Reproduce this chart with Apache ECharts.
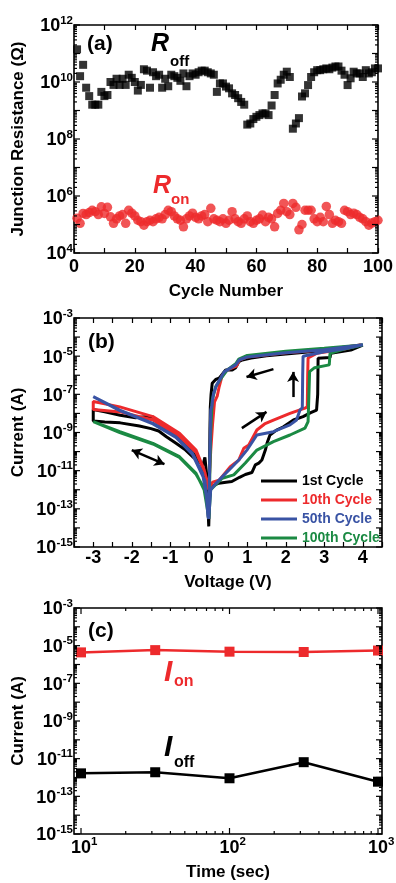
<!DOCTYPE html>
<html><head><meta charset="utf-8">
<script src="https://cdn.jsdelivr.net/npm/echarts@6/dist/echarts.min.js"></script>
<style>html,body{margin:0;padding:0;background:#fff}#c{width:396px;height:883px}</style>
</head><body><div id="c"></div>
<script>
const FONT = '"Liberation Sans", Arial, Helvetica, sans-serif';
const RED = '#ed2a2c', BLUE = '#3953a4', GREEN = '#1b8a43', BLACK = '#000';

// ---------- Panel (a): resistance vs cycle ----------
const cycles = [1,2,3,4,5,6,7,8,9,10,11,12,13,14,15,16,17,18,19,20,21,22,23,24,25,26,27,28,29,30,31,32,33,34,35,36,37,38,39,40,41,42,43,44,45,46,47,48,49,50,51,52,53,54,55,56,57,58,59,60,61,62,63,64,65,66,67,68,69,70,71,72,73,74,75,76,77,78,79,80,81,82,83,84,85,86,87,88,89,90,91,92,93,94,95,96,97,98,99,100];
const rOff = [1.4e11,1.6e10,4.0e10,6.3e9,3.2e9,1.6e9,1.6e9,1.6e9,4.5e9,3.2e9,
  3.5e9,1.0e10,7.9e9,1.3e10,7.9e9,1.3e10,7.9e9,1.8e10,1.4e10,1.0e10,
  5.0e9,7.9e9,2.8e10,2.5e10,6.3e9,2.2e10,1.6e10,1.8e10,6.3e9,1.3e10,
  7.1e9,1.8e10,1.6e10,1.4e10,1.1e10,2.0e10,7.1e9,1.6e10,2.0e10,1.8e10,
  2.2e10,2.5e10,2.5e10,2.2e10,2.0e10,1.8e10,4.5e9,8.9e9,8.9e9,6.9e9,
  6.0e9,4.0e9,3.5e9,2.7e9,2.0e9,1.6e9,3.2e8,3.5e8,5.0e8,6.0e8,
  6.9e8,7.9e8,7.9e8,6.9e8,1.5e9,3.5e9,8.9e9,1.2e10,1.8e10,2.3e10,
  1.5e10,2.3e8,3.5e8,5.4e8,3.1e9,4.0e9,7.8e9,1.5e10,2.2e10,2.6e10,
  2.6e10,2.8e10,3.0e10,2.8e10,3.2e10,3.5e10,3.5e10,2.5e10,1.8e10,7.8e9,
  1.35e10,2.3e10,2.0e10,2.0e10,1.5e10,2.6e10,2.0e10,2.2e10,3.0e10,3.0e10];
const rOn = [1.66e5,1.1e5,2.45e5,2.24e5,2.63e5,3.16e5,2.82e5,2.24e5,4.17e5,2.45e5,
  4.0e5,1.86e5,1.1e5,1.58e5,2.0e5,2.24e5,1.1e5,3.16e5,2.5e5,2.0e5,
  1.41e5,1.26e5,9.5e4,1.26e5,1.41e5,1.26e5,1.58e5,1.78e5,1.58e5,2.24e5,
  3.16e5,2.82e5,2.0e5,1.58e5,1.41e5,8.3e4,1.58e5,2.0e5,2.5e5,1.78e5,
  1.58e5,2.0e5,2.24e5,1.26e5,3.7e5,1.58e5,1.41e5,1.26e5,1.58e5,1.1e5,
  1.41e5,2.82e5,1.58e5,1.26e5,1.1e5,1.58e5,2.0e5,1.26e5,1.1e5,1.41e5,
  1.58e5,2.14e5,1.26e5,1.78e5,1.58e5,8.3e4,2.45e5,3.16e5,5.5e5,2.82e5,
  2.24e5,5.5e5,4.0e5,6.5e4,1.0e5,3.16e5,3.16e5,3.16e5,1.58e5,1.26e5,
  1.78e5,1.26e5,4.3e5,2.24e5,1.1e5,1.41e5,1.26e5,1.1e5,3.16e5,2.82e5,
  2.24e5,2.5e5,2.24e5,1.78e5,1.58e5,1.26e5,9.5e4,1.12e5,1.26e5,1.41e5];
const aXTickLabels = ['0','20','40','60','80','100'];
const aYLabelExps = [4,6,8,10,12];

// ---------- Panel (b): I-V curves [V, |I|] ----------
const ivNames = ['1st Cycle','10th Cycle','50th Cycle','100th Cycle'];
const iv1st = [[0.00,1.2e-14],[0.02,4e-13],[0.05,1.2e-12],[0.10,1.6e-12],[0.26,2.2e-12],[0.45,2.5e-12],[0.60,2.7e-12],[0.80,4.5e-12],[0.95,6.3e-12],[1.12,8e-12],[1.21,2e-11],[1.30,2.5e-11],[1.38,3.6e-11],[1.47,1.2e-10],[1.52,3e-10],[1.59,7.4e-10],[1.75,1.3e-9],[1.94,2e-9],[2.20,4.5e-9],[2.45,6.8e-9],[2.65,1.1e-8],[2.80,1.5e-8],[2.83,1e-7],[2.84,7.8e-6],[3.15,8.5e-6],[3.17,1.4e-5],[3.69,2.1e-5],[4.00,3.8e-5],
  [3.50,2.6e-5],[3.00,2.0e-5],[2.50,1.6e-5],[2.00,1.3e-5],[1.50,1.05e-5],[1.10,8e-6],[0.87,6.3e-6],[0.78,5.1e-6],[0.70,2.5e-6],[0.61,1.9e-6],[0.44,1.9e-6],[0.27,7e-7],[0.18,6e-7],[0.09,3.8e-7],[0.06,1e-7],[0.04,2e-8],[0.03,1e-9],[0.02,1e-11],[0.00,1.2e-14],
  [-0.02,3e-13],[-0.05,5e-12],[-0.10,5e-11],[-0.15,2e-11],[-0.25,3e-11],[-0.42,5.4e-11],[-0.60,1.2e-10],[-0.85,2.7e-10],[-1.10,6e-10],[-1.30,1.2e-9],[-1.50,1.6e-9],[-1.80,2.2e-9],[-2.30,3.2e-9],[-2.70,3.6e-9],[-3.00,4e-9],
  [-3.00,1.6e-8],[-2.70,1.2e-8],[-2.30,8e-9],[-1.90,6e-9],[-1.60,7e-9],[-1.45,6.5e-9],[-1.30,3e-9],[-0.85,6e-10],[-0.50,1.5e-10],[-0.20,2.5e-11],[-0.05,3e-12],[0.00,1.2e-14]];
const iv10th = [[0.00,1e-12],[0.10,2.5e-12],[0.27,3.2e-12],[0.56,1.6e-11],[0.78,3.6e-11],[0.91,1.5e-10],[1.04,2.2e-10],[1.25,1.35e-9],[1.45,2.8e-9],[1.68,4.5e-9],[2.11,1e-8],[2.50,1.9e-8],[2.56,2.2e-8],[2.57,1e-6],[2.58,8e-6],[2.80,1.4e-5],[3.50,2.3e-5],[3.95,3.9e-5],
  [3.00,2.2e-5],[2.00,1.5e-5],[1.00,9e-6],[0.80,6.5e-6],[0.72,3e-6],[0.50,2e-6],[0.35,1e-6],[0.27,2.5e-7],[0.22,8e-8],[0.15,4e-8],[0.10,3e-9],[0.05,1e-10],[0.00,1e-12],
  [-0.05,3e-12],[-0.12,1.1e-11],[-0.33,1.2e-10],[-0.76,9.1e-10],[-1.45,6.8e-9],[-2.31,2.2e-8],[-3.00,4.2e-8],
  [-3.00,1.6e-8],[-2.30,1.2e-8],[-1.45,4.5e-9],[-0.76,6e-10],[-0.33,9e-11],[-0.10,8e-12],[0.00,1e-12]];
const iv50th = [[0.00,3e-14],[0.05,1e-12],[0.18,2.1e-12],[0.40,6e-12],[0.61,1.6e-11],[0.80,4e-11],[0.99,1.2e-10],[1.25,7.4e-10],[1.68,1.1e-9],[2.11,2.5e-9],[2.28,4.5e-9],[2.37,1.5e-8],[2.43,2e-8],[2.44,1e-6],[2.45,1e-5],[3.00,1.7e-5],[3.50,2.4e-5],[4.00,4e-5],
  [3.00,2.2e-5],[2.00,1.5e-5],[1.00,9e-6],[0.80,6.5e-6],[0.70,3.5e-6],[0.40,1.5e-6],[0.20,3e-7],[0.12,1e-7],[0.08,2.5e-8],[0.05,1.5e-8],[0.03,1e-10],[0.00,3e-14],
  [-0.02,3.9e-14],[-0.06,4.3e-13],[-0.16,7.2e-12],[-0.42,8.1e-11],[-0.85,6e-10],[-1.45,3e-9],[-2.31,1.5e-8],[-3.00,7.6e-8],
  [-3.00,7e-8],[-2.31,1.4e-8],[-1.45,2.8e-9],[-0.85,5.5e-10],[-0.42,7e-11],[-0.10,3e-12],[0.00,3e-14]];
const iv100th = [[0.00,3e-14],[0.05,1e-12],[0.35,4e-12],[0.65,6e-12],[0.95,2.5e-11],[1.25,1.2e-10],[1.68,3.3e-10],[2.11,7.4e-10],[2.50,1.7e-9],[2.58,3.7e-9],[2.61,3.7e-9],[2.62,1.55e-6],[2.75,2.5e-6],[3.13,3.5e-6],[3.15,1.4e-5],[3.50,2.3e-5],[4.00,3.8e-5],
  [3.00,2.6e-5],[2.00,1.8e-5],[1.00,1.1e-5],[0.78,7e-6],[0.70,4e-6],[0.48,1.9e-6],[0.35,8.3e-7],[0.18,2.5e-7],[0.09,5e-8],[0.05,1e-9],[0.02,1e-12],[0.00,3e-14],
  [-0.02,6e-14],[-0.12,1e-12],[-0.33,7.2e-12],[-0.76,5.4e-11],[-1.45,2.7e-10],[-2.31,1.1e-9],[-3.00,3.7e-9],
  [-3.00,3.3e-9],[-2.31,1e-9],[-1.45,2.5e-10],[-0.76,5e-11],[-0.33,6.5e-12],[-0.10,1e-12],[0.00,3e-14]];
const bXTickLabels = ['-3','-2','-1','0','1','2','3','4'];
const bYLabelExps = [-15,-13,-11,-9,-7,-5,-3];
// sweep-direction arrows [from, to] in data coordinates
const bArrows = [
  {from:[-2.0,1.2e-10], to:[-1.15,2.2e-11], both:true},
  {from:[0.86,1.7e-9], to:[1.5,1.2e-8], both:false},
  {from:[2.19,7.2e-8], to:[2.19,1.5e-6], both:false},
  {from:[1.68,2.1e-6], to:[0.98,8.1e-7], both:false}
];

// ---------- Panel (c): retention ----------
const times = [10, 31.6, 100, 316, 1000];
const iOn = [4.4e-6, 5.8e-6, 4.8e-6, 4.6e-6, 5.5e-6];
const iOff = [1.66e-12, 1.9e-12, 9.1e-13, 6.5e-12, 6e-13];
const cXLabelExps = [1,2,3];
const cYLabelExps = [-15,-13,-11,-9,-7,-5,-3];

// ---------- helpers for log-axis ticks ----------
function richStyle() {
  return {
    b: {fontFamily: FONT, fontSize: 18, fontWeight: 'bold', fill: '#000', lineHeight: 21, verticalAlign: 'bottom'},
    s: {fontFamily: FONT, fontSize: 11.5, fontWeight: 'bold', fill: '#000', lineHeight: 12, verticalAlign: 'top'}
  };
}
function logTicks(minExp, maxExp) {
  const out = [];
  for (let e = minExp; e <= maxExp; e++) {
    out.push([Math.pow(10, e), 1, e]);
    if (e < maxExp) for (let k = 2; k <= 9; k++) out.push([k * Math.pow(10, e), 0, e]);
  }
  return out;
}
function yTickSeries(idx, xRef, minExp, maxExp, labelExps) {
  return {
    type: 'custom', xAxisIndex: idx, yAxisIndex: idx, silent: true, animation: false, z: 5,
    encode: {x: 0, y: 1},
    data: logTicks(minExp, maxExp).map(t => [xRef, t[0], t[1], (t[1] && labelExps.indexOf(t[2]) >= 0) ? 1 : 0, t[2]]),
    renderItem: function (params, api) {
      const cs = params.coordSys;
      const y = api.coord([api.value(0), api.value(1)])[1];
      const len = api.value(2) ? 6 : 3;
      const ch = [
        {type: 'line', shape: {x1: cs.x, y1: y, x2: cs.x + len, y2: y}, style: {stroke: '#000', lineWidth: 1.2}},
        {type: 'line', shape: {x1: cs.x + cs.width, y1: y, x2: cs.x + cs.width - len, y2: y}, style: {stroke: '#000', lineWidth: 1.2}}
      ];
      if (api.value(3)) {
        ch.push({type: 'text', x: cs.x - 1, y: y,
          style: {text: '{b|10}{s|' + api.value(4) + '}', rich: richStyle(), align: 'right', verticalAlign: 'middle'}});
      }
      return {type: 'group', children: ch};
    }
  };
}
function xTickSeries(idx, yRef, minExp, maxExp, labelExps) {
  return {
    type: 'custom', xAxisIndex: idx, yAxisIndex: idx, silent: true, animation: false, z: 5,
    encode: {x: 0, y: 1},
    data: logTicks(minExp, maxExp).map(t => [t[0], yRef, t[1], (t[1] && labelExps.indexOf(t[2]) >= 0) ? 1 : 0, t[2]]),
    renderItem: function (params, api) {
      const cs = params.coordSys;
      const x = api.coord([api.value(0), api.value(1)])[0];
      const len = api.value(2) ? 6 : 3;
      const b = cs.y + cs.height;
      const ch = [
        {type: 'line', shape: {x1: x, y1: b, x2: x, y2: b - len}, style: {stroke: '#000', lineWidth: 1.2}},
        {type: 'line', shape: {x1: x, y1: cs.y, x2: x, y2: cs.y + len}, style: {stroke: '#000', lineWidth: 1.2}}
      ];
      if (api.value(3)) {
        ch.push({type: 'text', x: x - 10, y: b + 2,
          style: {text: '{b|10}{s|' + api.value(4) + '}', rich: richStyle(), align: 'left', verticalAlign: 'top'}});
      }
      return {type: 'group', children: ch};
    }
  };
}

const nameStyle = {fontFamily: FONT, fontSize: 17, fontWeight: 'bold', color: '#000'};
const labStyle = {fontFamily: FONT, fontSize: 18, fontWeight: 'bold', color: '#000'};
const tickStyle = {show: true, inside: true, length: 5, lineStyle: {color: '#000', width: 1.2}};
const gridBase = {show: true, borderColor: '#000', borderWidth: 1.6, backgroundColor: 'transparent', containLabel: false};
function hiddenLogY(grid, min, max, name) {
  return {type: 'log', logBase: 10, gridIndex: grid, min: min, max: max,
    axisLine: {show: false}, axisTick: {show: false}, axisLabel: {show: false}, splitLine: {show: false},
    name: name, nameLocation: 'middle', nameGap: 47, nameTextStyle: nameStyle};
}

const chart = echarts.init(document.getElementById('c'), null, {renderer: 'canvas'});
const txt = (x, y, text, size, color, italic) => ({
  type: 'text', x: x, y: y, silent: true,
  style: {text: text, fill: color, font: (italic ? 'italic ' : '') + 'bold ' + size + 'px ' + FONT,
    align: 'left', verticalAlign: 'middle', textAlign: 'left', textVerticalAlign: 'middle'}
});

chart.setOption({
  animation: false,
  backgroundColor: '#fff',
  grid: [
    Object.assign({left: 74, top: 25, width: 308, height: 228}, gridBase),
    Object.assign({left: 74, top: 318, width: 308, height: 229}, gridBase),
    Object.assign({left: 74, top: 608, width: 308, height: 226}, gridBase)
  ],
  xAxis: [
    {type: 'value', gridIndex: 0, min: 0, max: 100, interval: 10, axisLine: {show: false}, splitLine: {show: false},
      axisTick: tickStyle, axisLabel: Object.assign({margin: 5, formatter: v => aXTickLabels.indexOf(String(v)) >= 0 ? String(v) : ''}, labStyle),
      name: 'Cycle Number', nameLocation: 'middle', nameGap: 30, nameTextStyle: nameStyle},
    {type: 'value', gridIndex: 1, min: -3.5, max: 4.5, interval: 0.5, axisLine: {show: false}, splitLine: {show: false},
      axisTick: tickStyle, axisLabel: Object.assign({margin: 2, formatter: v => bXTickLabels.indexOf(String(v)) >= 0 ? String(v) : ''}, labStyle),
      name: 'Voltage (V)', nameLocation: 'middle', nameGap: 27, nameTextStyle: nameStyle},
    {type: 'log', logBase: 10, gridIndex: 2, min: 8.97, max: 1064, axisLine: {show: false}, splitLine: {show: false},
      axisTick: {show: false}, axisLabel: {show: false},
      name: 'Time (sec)', nameLocation: 'middle', nameGap: 30, nameTextStyle: nameStyle},
    {type: 'value', gridIndex: 0, position: 'top', min: 0, max: 100, interval: 10, axisLine: {show: false}, splitLine: {show: false},
      axisTick: tickStyle, axisLabel: {show: false}},
    {type: 'value', gridIndex: 1, position: 'top', min: -3.5, max: 4.5, interval: 0.5, axisLine: {show: false}, splitLine: {show: false},
      axisTick: tickStyle, axisLabel: {show: false}}
  ],
  yAxis: [
    hiddenLogY(0, 1e4, 1e12, 'Junction Resistance (Ω)'),
    hiddenLogY(1, 1e-15, 1e-3, 'Current (A)'),
    hiddenLogY(2, 1e-15, 1e-3, 'Current (A)')
  ],
  legend: {
    left: 256, top: 469, orient: 'vertical', itemWidth: 36, itemHeight: 3, itemGap: 5, icon: 'rect',
    selectedMode: false,
    textStyle: {fontFamily: FONT, fontSize: 14, fontWeight: 'bold'},
    data: [
      {name: ivNames[0], textStyle: {color: BLACK}},
      {name: ivNames[1], textStyle: {color: RED}},
      {name: ivNames[2], textStyle: {color: BLUE}},
      {name: ivNames[3], textStyle: {color: GREEN}}
    ]
  },
  series: [
    yTickSeries(0, 50, 4, 12, aYLabelExps),
    yTickSeries(1, 0, -15, -3, bYLabelExps),
    yTickSeries(2, 100, -15, -3, cYLabelExps),
    xTickSeries(2, 1e-9, 1, 3, cXLabelExps),
    {name: 'Roff', type: 'scatter', xAxisIndex: 0, yAxisIndex: 0, symbol: 'rect', symbolSize: 8,
      itemStyle: {color: BLACK}, data: cycles.map((c, i) => [c, rOff[i]])},
    {name: 'Ron', type: 'scatter', xAxisIndex: 0, yAxisIndex: 0, symbol: 'circle', symbolSize: 9.5,
      itemStyle: {color: RED}, data: cycles.map((c, i) => [c, rOn[i]])},
    {name: ivNames[0], type: 'line', xAxisIndex: 1, yAxisIndex: 1, showSymbol: false, symbol: 'none',
      lineStyle: {color: BLACK, width: 3}, itemStyle: {color: BLACK}, data: iv1st,
      markLine: {silent: true, animation: false, symbolSize: [9, 10], label: {show: false},
        lineStyle: {color: BLACK, width: 2.5, type: 'solid'},
        data: bArrows.map(a => [{coord: a.from, symbol: a.both ? 'arrow' : 'none'}, {coord: a.to, symbol: 'arrow'}])}},
    {name: ivNames[1], type: 'line', xAxisIndex: 1, yAxisIndex: 1, showSymbol: false, symbol: 'none',
      lineStyle: {color: RED, width: 3}, itemStyle: {color: RED}, data: iv10th},
    {name: ivNames[3], type: 'line', xAxisIndex: 1, yAxisIndex: 1, showSymbol: false, symbol: 'none',
      lineStyle: {color: GREEN, width: 3}, itemStyle: {color: GREEN}, data: iv100th},
    {name: ivNames[2], type: 'line', xAxisIndex: 1, yAxisIndex: 1, showSymbol: false, symbol: 'none',
      lineStyle: {color: BLUE, width: 3}, itemStyle: {color: BLUE}, data: iv50th},
    {name: 'Ion', type: 'line', xAxisIndex: 2, yAxisIndex: 2, symbol: 'rect', symbolSize: 10, clip: false,
      lineStyle: {color: RED, width: 2.5}, itemStyle: {color: RED}, data: times.map((t, i) => [t, iOn[i]])},
    {name: 'Ioff', type: 'line', xAxisIndex: 2, yAxisIndex: 2, symbol: 'rect', symbolSize: 10, clip: false,
      lineStyle: {color: BLACK, width: 2.5}, itemStyle: {color: BLACK}, data: times.map((t, i) => [t, iOff[i]])}
  ],
  graphic: [
    txt(87, 44, '(a)', 21, BLACK, false),
    txt(151, 44, 'R', 25, BLACK, true),
    txt(170, 61.5, 'off', 15, BLACK, false),
    txt(153, 186, 'R', 25, RED, true),
    txt(171, 200, 'on', 15, RED, false),
    txt(88, 342, '(b)', 21, BLACK, false),
    txt(88, 631, '(c)', 21, BLACK, false),
    txt(164, 673, 'I', 30, RED, true),
    txt(174, 682, 'on', 16, RED, false),
    txt(164, 748, 'I', 30, BLACK, true),
    txt(174, 763, 'off', 16, BLACK, false)
  ]
});
</script>
</body></html>
